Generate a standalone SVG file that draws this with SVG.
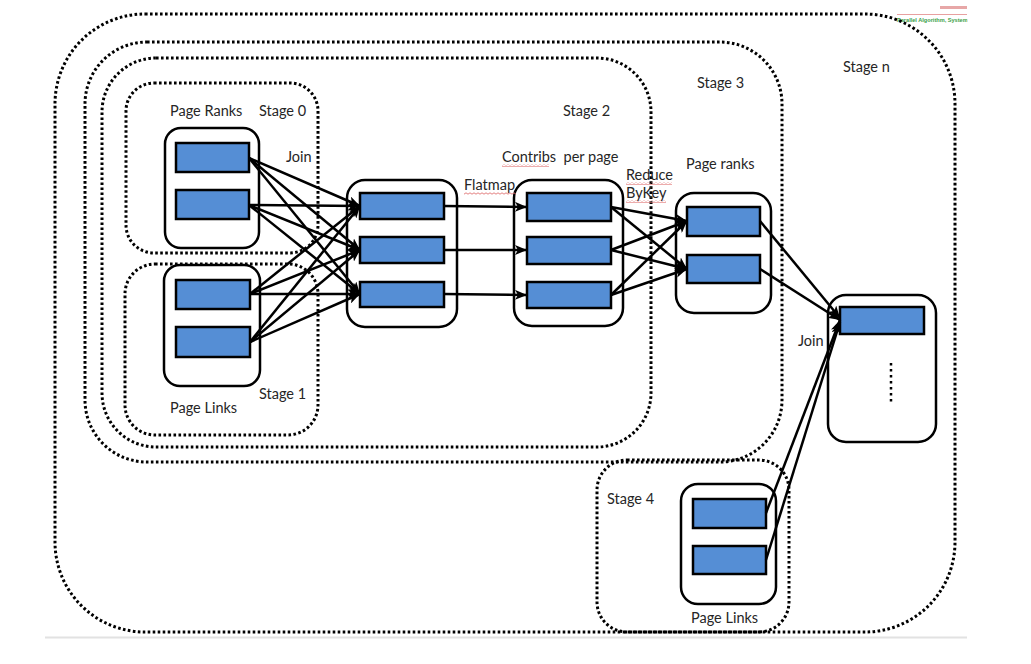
<svg xmlns="http://www.w3.org/2000/svg" width="1031" height="664" viewBox="0 0 1031 664">
<defs>
<marker id="arr" markerUnits="userSpaceOnUse" markerWidth="13" markerHeight="10" refX="12" refY="5" orient="auto">
<path d="M0,0 L12,5 L0,10 L3,5 Z" fill="#000"/>
</marker>
<pattern id="wave" width="4" height="3" patternUnits="userSpaceOnUse">
<path d="M0,2.2 L2,0.8 L4,2.2" fill="none" stroke="#e07070" stroke-width="0.9"/>
</pattern>
<style>
.stage{fill:none;stroke:#000;stroke-width:3;stroke-dasharray:2.6 2.4}
.box{fill:#fff;stroke:#000;stroke-width:2.5}
.cell{fill:#558ed5;stroke:#000;stroke-width:2.5}
.lbl{font-family:Lato,"Open Sans","Liberation Sans",sans-serif;font-size:14.5px;fill:#262626}
.conn path{fill:none;stroke:#000;stroke-width:2.5;marker-end:url(#arr)}
</style>
</defs>
<rect width="1031" height="664" fill="#fff"/>
<line x1="45" y1="637.5" x2="967" y2="637.5" stroke="#e2e2e2" stroke-width="2"/>
<g id="logo">
<line x1="897" y1="14.5" x2="967" y2="14.5" stroke="#e8a0a0" stroke-width="1.2"/>
<rect x="940" y="6" width="27" height="3" fill="#d05050" opacity="0.5"/>
<text x="897" y="21.5" font-family="Liberation Sans, sans-serif" font-size="5.6" font-weight="bold" fill="#3aa048">Parallel Algorithm, System &amp; Application</text>
<rect x="967.5" y="0" width="64" height="30" fill="#fff"/>
</g>
<g id="stages">
<rect id="stage-n" class="stage" x="55" y="14" width="900" height="618" rx="90" ry="90"/>
<rect id="stage-3" class="stage" x="85" y="42" width="697" height="420" rx="62" ry="62"/>
<rect id="stage-2" class="stage" x="102" y="58" width="549" height="389" rx="54" ry="54"/>
<rect id="stage-0" class="stage" x="126" y="83" width="192" height="170" rx="28" ry="28"/>
<rect id="stage-1" class="stage" x="125" y="264" width="193" height="171" rx="30" ry="30"/>
<rect id="stage-4" class="stage" x="597" y="460" width="192" height="172" rx="30" ry="30"/>
</g>
<g id="node-pageranks0">
<rect class="box" x="165" y="128" width="94" height="120" rx="16"/>
<rect class="cell" x="176" y="143" width="73" height="29"/>
<rect class="cell" x="176" y="190" width="73" height="29"/>
</g>
<g id="node-pagelinks1">
<rect class="box" x="164" y="265" width="96" height="121" rx="16"/>
<rect class="cell" x="176" y="280" width="74" height="29"/>
<rect class="cell" x="176" y="327" width="74" height="30"/>
</g>
<g id="node-joined">
<rect class="box" x="347" y="180" width="110" height="147" rx="18"/>
<rect class="cell" x="360" y="193" width="84" height="26"/>
<rect class="cell" x="360" y="237" width="84" height="26"/>
<rect class="cell" x="360" y="282" width="84" height="25"/>
</g>
<g id="node-contribs">
<rect class="box" x="514" y="180" width="109" height="146" rx="18"/>
<rect class="cell" x="527" y="193" width="84" height="28"/>
<rect class="cell" x="527" y="237" width="84" height="27"/>
<rect class="cell" x="527" y="282" width="84" height="26"/>
</g>
<g id="node-pageranks3">
<rect class="box" x="676" y="193" width="95" height="120" rx="18"/>
<rect class="cell" x="687" y="207" width="73" height="29"/>
<rect class="cell" x="687" y="255" width="73" height="28"/>
</g>
<g id="node-result">
<rect class="box" x="828" y="295" width="108" height="147" rx="18"/>
<rect class="cell" x="840" y="307" width="84" height="27"/>
<line x1="891" y1="363" x2="891" y2="405" stroke="#000" stroke-width="2.5" stroke-dasharray="2.5 3.5"/>
</g>
<g id="node-pagelinks4">
<rect class="box" x="681" y="484" width="95" height="120" rx="17"/>
<rect class="cell" x="693" y="499" width="73" height="29"/>
<rect class="cell" x="693" y="546" width="73" height="28"/>
</g>
<g id="connectors" class="conn">
<path d="M249,158 L360,206"/>
<path d="M249,158 L360,250"/>
<path d="M249,158 L360,294"/>
<path d="M249,205 L360,206"/>
<path d="M249,205 L360,250"/>
<path d="M249,205 L360,294"/>
<path d="M250,294 L360,206"/>
<path d="M250,294 L360,250"/>
<path d="M250,294 L360,294"/>
<path d="M250,342 L360,206"/>
<path d="M250,342 L360,250"/>
<path d="M250,342 L360,294"/>
<path d="M444,206 L527,207"/>
<path d="M444,250 L527,250"/>
<path d="M444,294 L527,295"/>
<path d="M611,207 L687,221"/>
<path d="M611,207 L687,269"/>
<path d="M611,250 L687,221"/>
<path d="M611,250 L687,269"/>
<path d="M611,295 L687,221"/>
<path d="M611,295 L687,269"/>
<path d="M760,221 L840,318"/>
<path d="M760,269 L840,320"/>
<path d="M766,513 L840,320"/>
<path d="M766,560 L840,322"/>
</g>
<g id="labels">
<text class="lbl" x="170" y="116">Page Ranks</text>
<text class="lbl" x="259" y="116">Stage 0</text>
<text class="lbl" x="286" y="162">Join</text>
<text class="lbl" x="563" y="116">Stage 2</text>
<text class="lbl" x="697" y="88">Stage 3</text>
<text class="lbl" x="843" y="72">Stage n</text>
<text class="lbl" x="502" y="162" xml:space="preserve">Contribs  per page</text>
<rect x="502" y="164" width="47" height="3" fill="url(#wave)"/>
<text class="lbl" x="464" y="190">Flatmap</text>
<rect x="464" y="192" width="52" height="3" fill="url(#wave)"/>
<text class="lbl" x="626" y="180">Reduce</text>
<rect x="626" y="182" width="46" height="3" fill="url(#wave)"/>
<text class="lbl" x="626" y="198">ByKey</text>
<rect x="626" y="200" width="40" height="3" fill="url(#wave)"/>
<text class="lbl" x="686" y="169">Page ranks</text>
<text class="lbl" x="798" y="346">Join</text>
<text class="lbl" x="259" y="399">Stage 1</text>
<text class="lbl" x="170" y="413">Page Links</text>
<text class="lbl" x="607" y="504">Stage 4</text>
<text class="lbl" x="691" y="623">Page Links</text>
</g>
</svg>
